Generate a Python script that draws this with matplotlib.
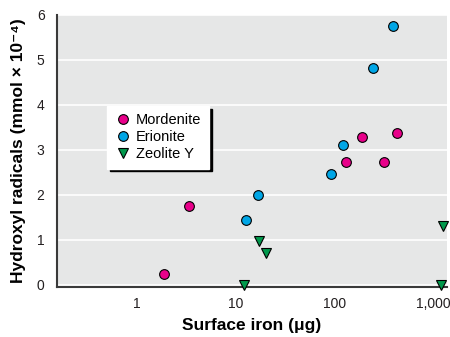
import matplotlib
matplotlib.use("Agg")
import matplotlib.pyplot as plt
from matplotlib.ticker import FixedLocator, FixedFormatter, NullLocator

plt.rcParams['font.family'] = ['Liberation Sans Narrow', 'Liberation Sans', 'DejaVu Sans']

# Data
mord_x = [1.9, 3.4, 131, 190, 321, 428]
mord_y = [0.25, 1.75, 2.73, 3.28, 2.74, 3.37]
erio_x = [12.6, 16.7, 92, 122, 248, 391]
erio_y = [1.44, 2.0, 2.47, 3.10, 4.82, 5.75]
zeo_x = [12.1, 17.1, 20.4, 1205, 1265]
zeo_y = [0.0, 0.98, 0.70, 0.0, 1.31]

xticks = [1, 10, 100, 1000]
xticklabels = ["1", "10", "100", "1,000"]
yticks = [0, 1, 2, 3, 4, 5, 6]

fig = plt.figure(figsize=(4.5, 3.37), dpi=100)
ax = fig.add_axes([57/450, 1-287/337, 390/450, 272/337])
ax.set_facecolor('#e6e7e7')

ms = 7
ax.plot(mord_x, mord_y, 'o', ms=ms, mfc='#e8008a', mec='black', mew=0.8,
        label='Mordenite', clip_on=False, zorder=3)
ax.plot(erio_x, erio_y, 'o', ms=ms, mfc='#00a6e6', mec='black', mew=0.8,
        label='Erionite', clip_on=False, zorder=3)
ax.plot(zeo_x, zeo_y, 'v', ms=ms, mfc='#00994c', mec='black', mew=0.8,
        label='Zeolite Y', clip_on=False, zorder=3)

ax.set_xscale('log')
ax.set_xlim(0.155, 1380)
ax.set_ylim(-0.05, 6)
ax.xaxis.set_major_locator(FixedLocator(xticks))
ax.xaxis.set_major_formatter(FixedFormatter(xticklabels))
ax.xaxis.set_minor_locator(NullLocator())
ax.set_yticks(yticks)
ax.tick_params(axis='both', length=0, labelsize=10, colors='#231f20')
ax.tick_params(axis='x', pad=7)
ax.tick_params(axis='y', pad=9)

ax.grid(axis='y', color='white', linewidth=1.2)
ax.set_axisbelow(True)
for s in ['top', 'right']:
    ax.spines[s].set_visible(False)
for s in ['left', 'bottom']:
    ax.spines[s].set_color('#3a3a3a')
    ax.spines[s].set_linewidth(1.5)

ax.set_xlabel('Surface iron (\u03bcg)', fontsize=12.5, fontweight='bold', labelpad=5)
ax.set_ylabel('Hydroxyl radicals (mmol \u00d7 10\u207b\u2074)', fontsize=12.5,
              fontweight='bold', labelpad=8)

leg = ax.legend(loc='upper left', bbox_to_anchor=(0.128, 0.665), borderaxespad=0,
                frameon=True, fancybox=False, shadow={'color': 'black', 'alpha': 1},
                fontsize=10.5, handletextpad=0.3, labelspacing=0.2,
                borderpad=0.5, handlelength=1.2)
leg.get_frame().set_edgecolor('white')
leg.get_frame().set_facecolor('white')
leg.get_frame().set_alpha(1)

fig.savefig('out.png', dpi=100)
